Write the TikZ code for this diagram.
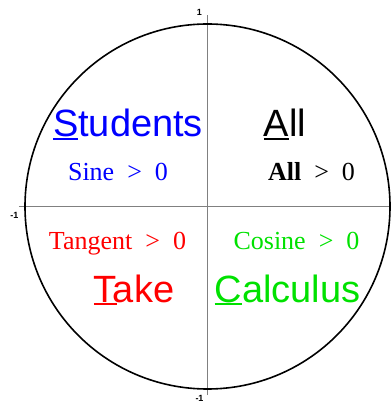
\documentclass[tikz,border=0pt]{standalone}
\usepackage{fontspec}
\setmainfont{Liberation Serif}
\setsansfont{Liberation Sans}
\usepackage{xcolor}
\usepackage{tikz}

\definecolor{qblue}{RGB}{0,0,255}
\definecolor{qred}{RGB}{255,0,0}
\definecolor{qgreen}{RGB}{0,225,0}

% underline only the first letter
\newcommand{\firstul}[1]{\setbox0\hbox{#1}\rlap{\rule[-3pt]{\wd0}{1.8pt}}#1}

\tikzset{
  word/.style={font=\sffamily\fontsize{38}{40}\selectfont, anchor=base, inner sep=0pt},
  sign/.style={font=\rmfamily\fontsize{26}{28}\selectfont, anchor=base, inner sep=0pt},
  tick/.style={font=\sffamily\bfseries\fontsize{9}{10}\selectfont, inner sep=0pt}
}

\begin{document}
\begin{tikzpicture}[x=1pt, y=1pt]
  \useasboundingbox (-207.5,-196.5) rectangle (183.5,206.5);

  % axes
  \draw[gray, line width=1pt] (-188.5,0) -- (183.5,0);
  \draw[gray, line width=1pt] (0,-188.5) -- (0,191.5);
  \node[tick] (ytop) at (-8,194) {1};
  \node[tick] (xleft) at (-193,-9) {-1};
  \node[tick] (ybot) at (-8,-192) {-1};

  % unit circle
  \draw[line width=1.6pt] (0,0) circle (182.5);

  % quadrant II
  \node[word, text=qblue] (students) at (-79.5,69.5) {\firstul{S}tudents};
  \node[sign, text=qblue] (sine) at (-89.5,25.5) {Sine\enspace>\enspace0};

  % quadrant I
  \node[word] (all) at (77.5,69.5) {\firstul{A}ll};
  \node[sign] (allpos) at (104,25.5) {\textbf{All}\enspace>\enspace0};

  % quadrant III
  \node[sign, text=qred] (tangent) at (-90,-43.5) {Tangent\enspace>\enspace0};
  \node[word, text=qred] (take) at (-73.5,-95.5) {\firstul{T}ake};

  % quadrant IV
  \node[sign, text=qgreen] (cosine) at (89,-43.5) {Cosine\enspace>\enspace0};
  \node[word, text=qgreen] (calculus) at (80,-95.5) {\firstul{C}alculus};
\end{tikzpicture}
\end{document}
